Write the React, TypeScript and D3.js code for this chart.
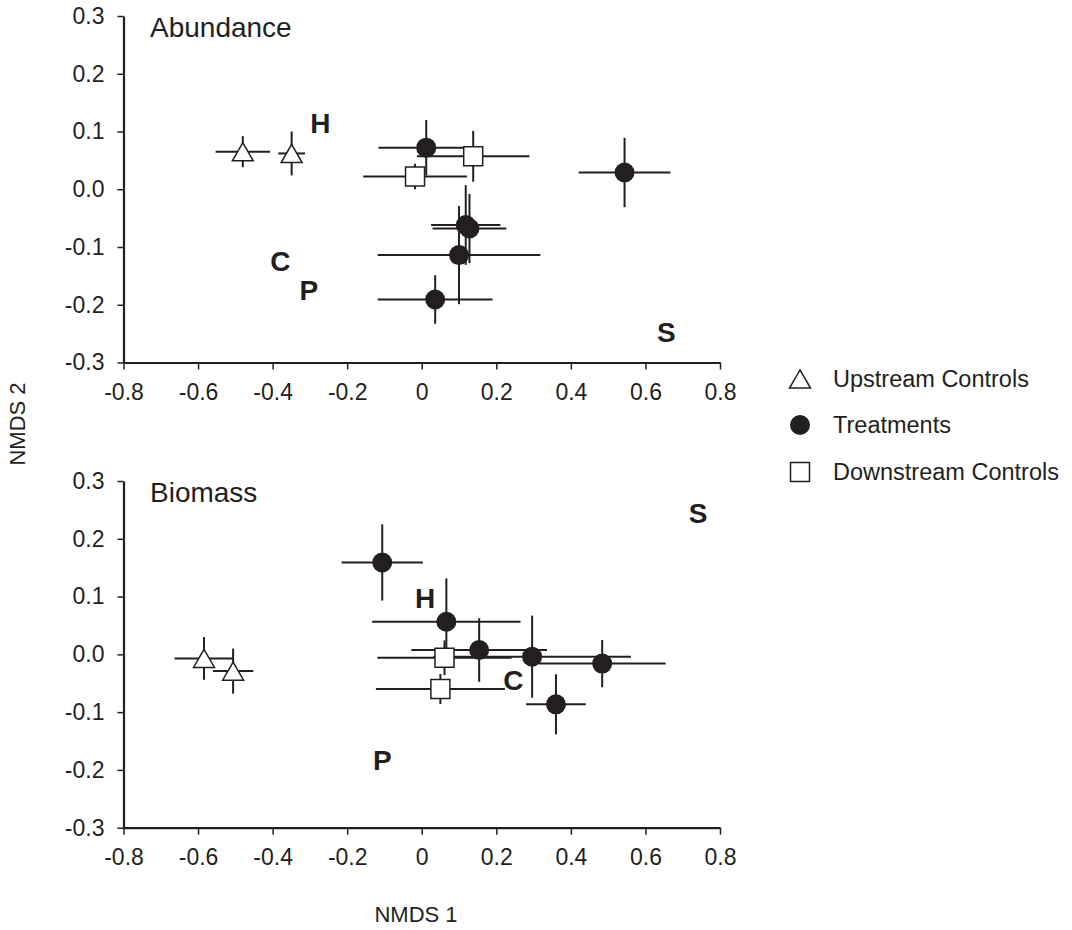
import * as d3 from "d3";
import { useEffect, useRef } from "react";

// NMDS ordination, mean ± error for each site group
type Pt = { x: number; y: number; ex: number; ey: number };
type Lbl = { t: string; x: number; y: number };

const abundanceUpstream: Pt[] = [
  { x: -0.48, y: 0.065, ex: 0.073, ey: 0.027 },
  { x: -0.349, y: 0.062, ex: 0.036, ey: 0.038 },
];
const abundanceTreatments: Pt[] = [
  { x: 0.012, y: 0.072, ex: 0.128, ey: 0.048 },
  { x: 0.544, y: 0.029, ex: 0.123, ey: 0.06 },
  { x: 0.118, y: -0.062, ex: 0.093, ey: 0.069 },
  { x: 0.128, y: -0.068, ex: 0.099, ey: 0.06 },
  { x: 0.1, y: -0.114, ex: 0.218, ey: 0.085 },
  { x: 0.036, y: -0.191, ex: 0.154, ey: 0.042 },
];
const abundanceDownstream: Pt[] = [
  { x: 0.138, y: 0.057, ex: 0.151, ey: 0.044 },
  { x: -0.018, y: 0.022, ex: 0.139, ey: 0.022 },
];
const abundanceLetters: Lbl[] = [
  { t: "H", x: -0.272, y: 0.114 },
  { t: "C", x: -0.379, y: -0.125 },
  { t: "P", x: -0.303, y: -0.175 },
  { t: "S", x: 0.656, y: -0.247 },
];

const biomassUpstream: Pt[] = [
  { x: -0.584, y: -0.007, ex: 0.079, ey: 0.037 },
  { x: -0.506, y: -0.029, ex: 0.054, ey: 0.039 },
];
const biomassTreatments: Pt[] = [
  { x: -0.106, y: 0.159, ex: 0.109, ey: 0.066 },
  { x: 0.066, y: 0.0565, ex: 0.199, ey: 0.075 },
  { x: 0.154, y: 0.0075, ex: 0.182, ey: 0.055 },
  { x: 0.296, y: -0.004, ex: 0.265, ey: 0.071 },
  { x: 0.484, y: -0.016, ex: 0.17, ey: 0.041 },
  { x: 0.36, y: -0.0865, ex: 0.08, ey: 0.052 },
];
const biomassDownstream: Pt[] = [
  { x: 0.061, y: -0.006, ex: 0.18, ey: 0.03 },
  { x: 0.05, y: -0.06, ex: 0.173, ey: 0.026 },
];
const biomassLetters: Lbl[] = [
  { t: "S", x: 0.741, y: 0.245 },
  { t: "H", x: 0.009, y: 0.098 },
  { t: "C", x: 0.246, y: -0.044 },
  { t: "P", x: -0.106, y: -0.183 },
];

const xTicks = [-0.8, -0.6, -0.4, -0.2, 0, 0.2, 0.4, 0.6, 0.8];
const yTicks = [-0.3, -0.2, -0.1, 0, 0.1, 0.2, 0.3];
const legendItems = ["Upstream Controls", "Treatments", "Downstream Controls"];

const INK = "#231f20";
const FONT = "'Liberation Sans', Arial, Helvetica, sans-serif";
const X_RANGE: [number, number] = [123.5, 720];

const triPath = d3.symbol(d3.symbolTriangle, 190)()!;
const TRI_SHIFT = (Math.sqrt((4 * 190) / Math.sqrt(3)) * Math.sqrt(3)) / 2 / 6;
const circPath = d3.symbol(d3.symbolCircle, Math.PI * 10 * 10)()!;
const sqPath = d3.symbol(d3.symbolSquare, 19 * 19)()!;

type PanelProps = {
  title: string;
  yRange: [number, number];
  up: Pt[];
  tr: Pt[];
  down: Pt[];
  letters: Lbl[];
};

const Panel = ({ title, yRange, up, tr, down, letters }: PanelProps) => {
  const xRef = useRef<SVGGElement>(null);
  const yRef = useRef<SVGGElement>(null);
  const xScale = d3.scaleLinear().domain([-0.8, 0.8]).range(X_RANGE);
  const yScale = d3.scaleLinear().domain([-0.3, 0.3]).range(yRange);

  useEffect(() => {
    const xa = d3
      .axisBottom(xScale)
      .tickValues(xTicks)
      .tickSize(7)
      .tickSizeOuter(0)
      .tickPadding(14)
      .tickFormat((d) => (+d === 0 ? "0" : d3.format(".1f")(+d).replace("−", "-")));
    const ya = d3
      .axisLeft(yScale)
      .tickValues(yTicks)
      .tickSize(6)
      .tickSizeOuter(0)
      .tickPadding(13)
      .tickFormat((d) => d3.format(".1f")(+d).replace("−", "-"));
    [d3.select(xRef.current!).call(xa), d3.select(yRef.current!).call(ya)].forEach((g) => {
      g.attr("font-family", FONT).attr("font-size", 23);
      g.select(".domain").attr("stroke", INK).attr("stroke-width", 2.2);
      g.selectAll(".tick line").attr("stroke", INK).attr("stroke-width", 1.5);
      g.selectAll(".tick text").attr("fill", INK);
    });
  }, []);

  const all = [...up, ...tr, ...down];
  return (
    <g>
      <g ref={xRef} transform={`translate(0,${yRange[0]})`} />
      <g ref={yRef} transform={`translate(${X_RANGE[0]},0)`} />
      <text x={150} y={yRange[1] + 21} fontSize={28} fontFamily={FONT} fill={INK}>
        {title}
      </text>
      {letters.map((l, i) => (
        <text
          key={i}
          x={xScale(l.x)}
          y={yScale(l.y) + 10}
          textAnchor="middle"
          fontSize={28}
          fontWeight="bold"
          fontFamily={FONT}
          fill={INK}
        >
          {l.t}
        </text>
      ))}
      {all.map((d, i) => (
        <g key={i} stroke={INK} strokeWidth={2}>
          <line x1={xScale(d.x - d.ex)} x2={xScale(d.x + d.ex)} y1={yScale(d.y)} y2={yScale(d.y)} />
          <line x1={xScale(d.x)} x2={xScale(d.x)} y1={yScale(d.y - d.ey)} y2={yScale(d.y + d.ey)} />
        </g>
      ))}
      {tr.map((d, i) => (
        <path key={i} d={circPath} transform={`translate(${xScale(d.x)},${yScale(d.y)})`} fill={INK} />
      ))}
      {up.map((d, i) => (
        <path
          key={i}
          d={triPath}
          transform={`translate(${xScale(d.x)},${yScale(d.y) + TRI_SHIFT})`}
          fill="#fff"
          stroke={INK}
          strokeWidth={1.5}
        />
      ))}
      {down.map((d, i) => (
        <path
          key={i}
          d={sqPath}
          transform={`translate(${xScale(d.x)},${yScale(d.y)})`}
          fill="#fff"
          stroke={INK}
          strokeWidth={1.5}
        />
      ))}
    </g>
  );
};

export default function App() {
  const legendY = [379, 425, 472];
  return (
    <svg width={1072} height={930} style={{ position: "absolute", left: 0, top: 0, background: "#fff" }}>
      <Panel
        title="Abundance"
        yRange={[362.5, 16]}
        up={abundanceUpstream}
        tr={abundanceTreatments}
        down={abundanceDownstream}
        letters={abundanceLetters}
      />
      <Panel
        title="Biomass"
        yRange={[827.7, 481]}
        up={biomassUpstream}
        tr={biomassTreatments}
        down={biomassDownstream}
        letters={biomassLetters}
      />
      <text
        transform="translate(25,424) rotate(-90)"
        textAnchor="middle"
        fontSize={22}
        fontFamily={FONT}
        fill={INK}
      >
        NMDS 2
      </text>
      <text x={416} y={922} textAnchor="middle" fontSize={22} fontFamily={FONT} fill={INK}>
        NMDS 1
      </text>
      <g>
        <path d={triPath} transform={`translate(800,${legendY[0] + TRI_SHIFT})`} fill="#fff" stroke={INK} strokeWidth={1.5} />
        <path d={circPath} transform={`translate(800,${legendY[1]})`} fill={INK} />
        <path d={sqPath} transform={`translate(800,${legendY[2]})`} fill="#fff" stroke={INK} strokeWidth={1.5} />
        {legendItems.map((t, i) => (
          <text key={t} x={833} y={legendY[i] + 8} fontSize={23.5} fontFamily={FONT} fill={INK}>
            {t}
          </text>
        ))}
      </g>
    </svg>
  );
}
